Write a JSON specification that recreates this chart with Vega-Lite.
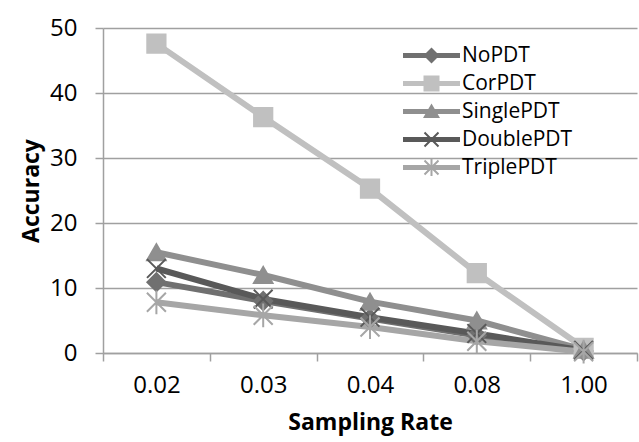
{
  "$schema": "https://vega.github.io/schema/vega-lite/v6.json",
  "width": 534,
  "height": 325,
  "autosize": {"type": "none"},
  "padding": {"left": 103, "top": 28, "right": 2, "bottom": 89},
  "background": "white",
  "config": {
    "view": {"stroke": null},
    "font": "Open Sans",
    "axis": {
      "domainColor": "#a0a0a0",
      "tickColor": "#a0a0a0",
      "gridColor": "#a0a0a0",
      "domainWidth": 1.5,
      "tickWidth": 1.5,
      "gridWidth": 1.5,
      "labelColor": "#000000",
      "titleColor": "#000000",
      "labelFont": "Open Sans",
      "titleFont": "Open Sans"
    }
  },
  "data": {
    "values": [
      {"rate": "0.02", "series": "NoPDT", "acc": 10.9},
      {"rate": "0.03", "series": "NoPDT", "acc": 8.0},
      {"rate": "0.04", "series": "NoPDT", "acc": 5.3},
      {"rate": "0.08", "series": "NoPDT", "acc": 2.7},
      {"rate": "1.00", "series": "NoPDT", "acc": 0.3},
      {"rate": "0.02", "series": "CorPDT", "acc": 47.6},
      {"rate": "0.03", "series": "CorPDT", "acc": 36.3},
      {"rate": "0.04", "series": "CorPDT", "acc": 25.3},
      {"rate": "0.08", "series": "CorPDT", "acc": 12.3},
      {"rate": "1.00", "series": "CorPDT", "acc": 0.8},
      {"rate": "0.02", "series": "SinglePDT", "acc": 15.5},
      {"rate": "0.03", "series": "SinglePDT", "acc": 12.0},
      {"rate": "0.04", "series": "SinglePDT", "acc": 7.9},
      {"rate": "0.08", "series": "SinglePDT", "acc": 5.0},
      {"rate": "1.00", "series": "SinglePDT", "acc": 0.5},
      {"rate": "0.02", "series": "DoublePDT", "acc": 13.0},
      {"rate": "0.03", "series": "DoublePDT", "acc": 8.3},
      {"rate": "0.04", "series": "DoublePDT", "acc": 5.5},
      {"rate": "0.08", "series": "DoublePDT", "acc": 3.0},
      {"rate": "1.00", "series": "DoublePDT", "acc": 0.4},
      {"rate": "0.02", "series": "TriplePDT", "acc": 7.8},
      {"rate": "0.03", "series": "TriplePDT", "acc": 5.8},
      {"rate": "0.04", "series": "TriplePDT", "acc": 4.0},
      {"rate": "0.08", "series": "TriplePDT", "acc": 1.8},
      {"rate": "1.00", "series": "TriplePDT", "acc": 0.2}
    ]
  },
  "encoding": {
    "x": {
      "field": "rate",
      "type": "ordinal",
      "sort": ["0.02", "0.03", "0.04", "0.08", "1.00"],
      "bandPosition": 0.5,
      "scale": {"type": "band", "paddingInner": 0, "paddingOuter": 0},
      "axis": {
        "title": "Sampling Rate",
        "labelAngle": 0,
        "tickBand": "extent",
        "tickSize": 8,
        "labelPadding": 12,
        "labelFontSize": 24,
        "titleFontSize": 23,
        "titleFontWeight": "bold",
        "titlePadding": 14,
        "grid": false
      }
    },
    "y": {
      "field": "acc",
      "type": "quantitative",
      "scale": {"domain": [0, 50]},
      "axis": {
        "title": "Accuracy",
        "values": [0, 10, 20, 30, 40, 50],
        "tickSize": 8,
        "labelPadding": 18,
        "labelFontSize": 24,
        "titleFontSize": 23,
        "titleFontWeight": "bold",
        "titlePadding": 6,
        "grid": true
      }
    }
  },
  "layer": [
    {
      "mark": {"type": "line", "strokeWidth": 6},
      "encoding": {
        "color": {
          "field": "series",
          "type": "nominal",
          "scale": {
            "domain": ["NoPDT", "CorPDT", "SinglePDT", "DoublePDT", "TriplePDT"],
            "range": ["#707070", "#c0c0c0", "#8f8f8f", "#595959", "#a6a6a6"]
          },
          "legend": null
        }
      }
    },
    {
      "mark": {"type": "point", "filled": true, "opacity": 1, "strokeWidth": 2},
      "encoding": {
        "color": {
          "field": "series",
          "type": "nominal",
          "scale": {
            "domain": ["NoPDT", "CorPDT", "SinglePDT", "DoublePDT", "TriplePDT"],
            "range": ["#707070", "#c0c0c0", "#8f8f8f", "#595959", "#a6a6a6"]
          },
          "legend": null
        },
        "stroke": {
          "field": "series",
          "type": "nominal",
          "scale": {
            "domain": ["NoPDT", "CorPDT", "SinglePDT", "DoublePDT", "TriplePDT"],
            "range": ["#707070", "#c0c0c0", "#8f8f8f", "#595959", "#a6a6a6"]
          },
          "legend": null
        },
        "shape": {
          "field": "series",
          "type": "nominal",
          "scale": {
            "domain": ["NoPDT", "CorPDT", "SinglePDT", "DoublePDT", "TriplePDT"],
            "range": ["diamond", "square", "triangle-up", "M-1,-1L1,1M-1,1L1,-1", "M-1,-1L1,1M-1,1L1,-1M0,-1.25L0,1.25"]
          },
          "legend": null
        },
        "size": {
          "field": "series",
          "type": "nominal",
          "scale": {
            "domain": ["NoPDT", "CorPDT", "SinglePDT", "DoublePDT", "TriplePDT"],
            "range": [324, 361, 441, 324, 324]
          },
          "legend": null
        }
      }
    },
    {
      "mark": {"type": "point", "filled": true, "opacity": 0},
      "encoding": {
        "color": {
          "field": "series",
          "type": "nominal",
          "scale": {
            "domain": ["NoPDT", "CorPDT", "SinglePDT", "DoublePDT", "TriplePDT"],
            "range": ["#707070", "#c0c0c0", "#8f8f8f", "#595959", "#a6a6a6"]
          },
          "legend": {
            "title": null,
            "orient": "none",
            "legendX": 318,
            "legendY": 17,
            "symbolSize": 400,
            "symbolOpacity": 1,
            "symbolStrokeWidth": 0,
            "labelFont": "Open Sans",
            "labelFontSize": 21,
            "labelColor": "#000000",
            "labelOffset": 20,
            "rowPadding": 6,
            "padding": 0
          }
        },
        "shape": {
          "field": "series",
          "type": "nominal",
          "scale": {
            "domain": ["NoPDT", "CorPDT", "SinglePDT", "DoublePDT", "TriplePDT"],
            "range": [
              "M-2.85,-0.25H2.85V0.25H-2.85Z M0,-0.8L0.8,0L0,0.8L-0.8,0Z",
              "M-2.85,-0.25H2.85V0.25H-2.85Z M-0.8,-0.8H0.8V0.8H-0.8Z",
              "M-2.85,-0.25H2.85V0.25H-2.85Z M0,-0.8L0.85,0.65L-0.85,0.65Z",
              "M-2.85,-0.25H2.85V0.25H-2.85Z M-0.63,-0.77L0.77,0.63L0.63,0.77L-0.77,-0.63Z M0.63,-0.77L0.77,-0.63L-0.63,0.77L-0.77,0.63Z",
              "M-2.85,-0.25H2.85V0.25H-2.85Z M-0.63,-0.77L0.77,0.63L0.63,0.77L-0.77,-0.63Z M0.63,-0.77L0.77,-0.63L-0.63,0.77L-0.77,0.63Z M-0.1,-0.85H0.1V0.85H-0.1Z"
            ]
          },
          "legend": {
            "title": null,
            "orient": "none",
            "legendX": 318,
            "legendY": 17,
            "symbolSize": 400,
            "symbolOpacity": 1,
            "symbolStrokeWidth": 0,
            "labelFont": "Open Sans",
            "labelFontSize": 21,
            "labelColor": "#000000",
            "labelOffset": 20,
            "rowPadding": 6,
            "padding": 0
          }
        }
      }
    }
  ],
  "resolve": {"scale": {"color": "independent", "shape": "independent"}}
}
